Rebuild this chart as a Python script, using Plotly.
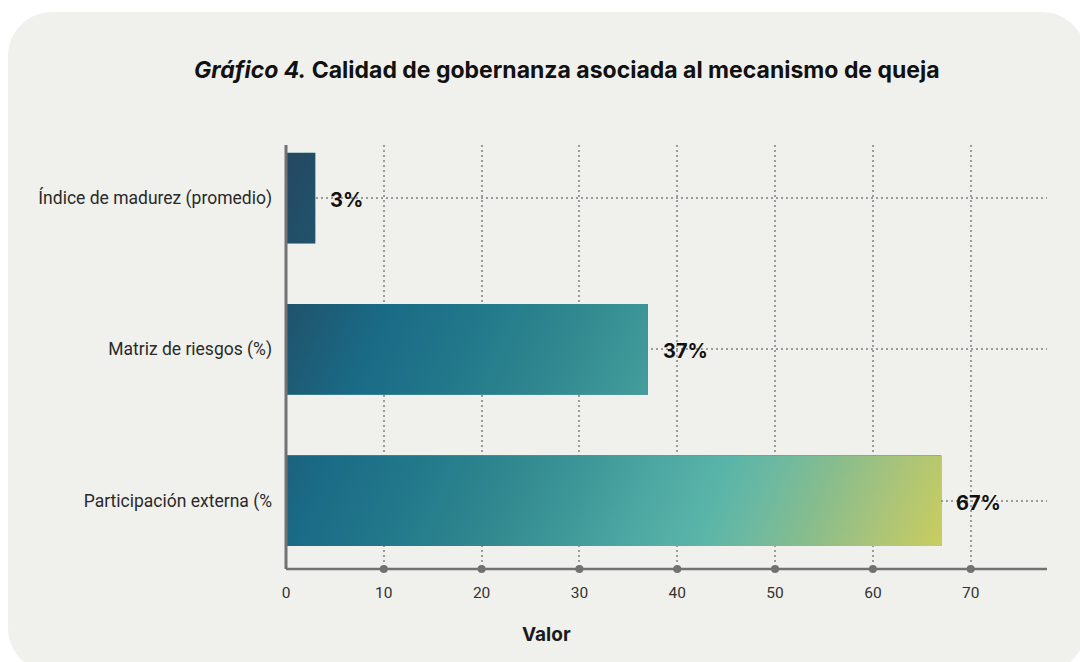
import base64
import plotly.graph_objects as go

# ---- data ----
categories = ["Índice de madurez (promedio)", "Matriz de riesgos (%)", "Participación externa (%"]
values = [3, 37, 67]
value_labels = ["3%", "37%", "67%"]
x_ticks = [0, 10, 20, 30, 40, 50, 60, 70]

# ---- layout geometry (pixels) ----
FIG_W, FIG_H = 1080, 662
M_L, M_R, M_T, M_B = 286, 33, 145, 93
PLOT_W = FIG_W - M_L - M_R
PLOT_H = FIG_H - M_T - M_B
X_RANGE = [0, 77.8]
Y_RANGE = [-0.452, 2.351]
BAR_W = 0.6
KX = PLOT_W / (X_RANGE[1] - X_RANGE[0])
KY = PLOT_H / (Y_RANGE[1] - Y_RANGE[0])

PANEL = "#f0f0ec"
AXIS = "#727272"
GRID = "#9c9c9c"

# diagonal gradient shared by all bars (plot-pixel frame)
GRAD_START = (0.0, 0.0)
GRAD_END = (703.0, 289.0)
GRAD_STOPS = [
    (0.00, "#264660"), (0.10, "#1f566f"), (0.20, "#1a6a86"), (0.33, "#237a8b"),
    (0.43, "#30878f"), (0.53, "#3e9898"), (0.63, "#50aaa4"), (0.70, "#5ab5a8"),
    (0.76, "#6eb9a0"), (0.83, "#88bd8c"), (0.90, "#a6c37c"), (1.00, "#cacd5e"),
]


def px_to_paper_x(px):
    return (px - M_L) / PLOT_W


def px_to_paper_y(py):
    return (FIG_H - M_B - py) / PLOT_H


def gradient_svg(x0, y0, w, h):
    stops = "".join(f'<stop offset="{o}" stop-color="{c}"/>' for o, c in GRAD_STOPS)
    svg = (
        f'<svg xmlns="http://www.w3.org/2000/svg" width="{w:.2f}" height="{h:.2f}" '
        f'viewBox="0 0 {w:.2f} {h:.2f}" preserveAspectRatio="none">'
        f'<defs><linearGradient id="g" gradientUnits="userSpaceOnUse" '
        f'x1="{GRAD_START[0] - x0:.2f}" y1="{GRAD_START[1] - y0:.2f}" '
        f'x2="{GRAD_END[0] - x0:.2f}" y2="{GRAD_END[1] - y0:.2f}">{stops}</linearGradient></defs>'
        f'<rect x="0" y="0" width="{w:.2f}" height="{h:.2f}" fill="url(#g)"/></svg>'
    )
    return "data:image/svg+xml;base64," + base64.b64encode(svg.encode()).decode()


n = len(categories)
y_pos = [n - 1 - i for i in range(n)]

fig = go.Figure()

fig.add_trace(go.Bar(
    x=values, y=y_pos, orientation="h", width=BAR_W,
    marker=dict(color="#2a7d8c", line=dict(width=0)),
    hoverinfo="skip", showlegend=False,
))

# tick dots on the value axis
fig.add_trace(go.Scatter(
    x=x_ticks[1:], y=[Y_RANGE[0]] * (len(x_ticks) - 1), mode="markers",
    marker=dict(size=8, color=AXIS), cliponaxis=False,
    hoverinfo="skip", showlegend=False,
))

images = []
annotations = []
for v, yp, lab in zip(values, y_pos, value_labels):
    bx0 = (0 - X_RANGE[0]) * KX
    by0 = (Y_RANGE[1] - (yp + BAR_W / 2)) * KY
    bw = (v - 0) * KX
    bh = BAR_W * KY
    images.append(dict(
        source=gradient_svg(bx0, by0, bw, bh), xref="x", yref="y",
        x=0, y=yp + BAR_W / 2, sizex=v, sizey=BAR_W,
        xanchor="left", yanchor="top", sizing="stretch", layer="above",
    ))
    annotations.append(dict(
        x=v, y=yp, xref="x", yref="y", text=lab, showarrow=False,
        xanchor="left", yanchor="middle", xshift=13, yshift=-2,
        font=dict(family="Inter", size=20, color="#111111", weight="bold"),
    ))

annotations.append(dict(
    x=px_to_paper_x(567), y=px_to_paper_y(70), xref="paper", yref="paper",
    text="<b><i>Gráfico 4.</i> Calidad de gobernanza asociada al mecanismo de queja</b>",
    showarrow=False, xanchor="center", yanchor="middle",
    font=dict(family="Inter", size=23, color="#111111"),
))
annotations.append(dict(
    x=px_to_paper_x(546), y=px_to_paper_y(634), xref="paper", yref="paper",
    text="<b>Valor</b>", showarrow=False, xanchor="center", yanchor="middle",
    font=dict(family="Inter", size=19, color="#1a1a1a"),
))

# rounded background panel
PX0, PY0, PX1, PY1, R = 8, 12, 1086, 672, 44
k = 0.5523 * R


def P(x, y):
    return f"{px_to_paper_x(x):.5f},{px_to_paper_y(y):.5f}"


panel_path = (
    f"M {P(PX0 + R, PY0)} L {P(PX1 - R, PY0)} "
    f"C {P(PX1 - R + k, PY0)} {P(PX1, PY0 + R - k)} {P(PX1, PY0 + R)} "
    f"L {P(PX1, PY1 - R)} "
    f"C {P(PX1, PY1 - R + k)} {P(PX1 - R + k, PY1)} {P(PX1 - R, PY1)} "
    f"L {P(PX0 + R, PY1)} "
    f"C {P(PX0 + R - k, PY1)} {P(PX0, PY1 - R + k)} {P(PX0, PY1 - R)} "
    f"L {P(PX0, PY0 + R)} "
    f"C {P(PX0, PY0 + R - k)} {P(PX0 + R - k, PY0)} {P(PX0 + R, PY0)} Z"
)

shapes = [
    dict(type="path", path=panel_path, xref="paper", yref="paper",
         fillcolor=PANEL, line=dict(width=0), layer="below"),
    # value-axis baseline and category-axis line drawn above the bars
    dict(type="line", xref="paper", yref="paper", x0=0, x1=0, y0=0, y1=1,
         line=dict(color=AXIS, width=3), layer="above"),
    dict(type="line", xref="paper", yref="paper", x0=0, x1=1, y0=0, y1=0,
         line=dict(color=AXIS, width=2.5), layer="above"),
]

fig.update_layout(
    width=FIG_W, height=FIG_H,
    margin=dict(l=M_L, r=M_R, t=M_T, b=M_B, pad=0),
    paper_bgcolor="#ffffff", plot_bgcolor="rgba(0,0,0,0)",
    images=images, annotations=annotations, shapes=shapes,
    bargap=0.4, showlegend=False,
    font=dict(family="Roboto", color="#2a2a2a"),
)
fig.update_xaxes(
    range=X_RANGE, tickvals=x_ticks, ticktext=[str(t) for t in x_ticks],
    showgrid=True, gridcolor=GRID, gridwidth=1.5, griddash="2px,3px",
    zeroline=False, showline=False, ticks="", ticklabelstandoff=12,
    tickfont=dict(family="Roboto", size=15.5, color="#333333"),
)
fig.update_yaxes(
    range=Y_RANGE, tickvals=y_pos, ticktext=categories,
    showgrid=True, gridcolor=GRID, gridwidth=1.5, griddash="2px,3px",
    zeroline=False, showline=False, ticks="", ticklabelstandoff=13,
    tickfont=dict(family="Roboto", size=17.5, color="#2a2a2a"),
)

fig.write_html("out.html")
